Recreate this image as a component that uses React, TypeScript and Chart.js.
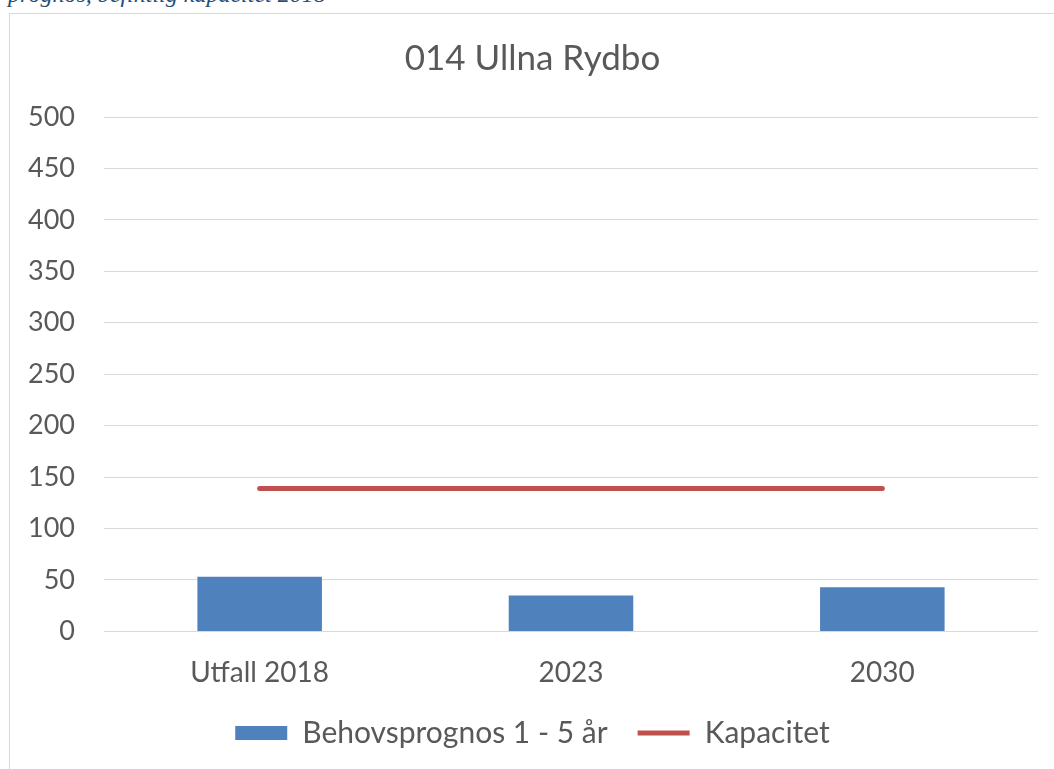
import React, { useEffect, useRef } from "react";
import { Chart, registerables } from "chart.js";

Chart.register(...registerables);

const chartTitle = "014 Ullna Rydbo";
const categories = ["Utfall 2018", "2023", "2030"];
const behovsprognos = [53, 35, 43];
const kapacitet = [139, 139, 139];
const seriesNames = ["Behovsprognos 1 - 5 år", "Kapacitet"];
const yMin = 0;
const yMax = 500;
const yStep = 50;
const captionText = "prognos, befintlig kapacitet 2018";

const TEXT = "#595959";
const FONT = "Lato, 'Noto Sans', sans-serif";

const legendShift = {
  id: "legendShift",
  afterUpdate(chart: any) {
    const l = chart.legend;
    if (l) {
      l.top -= 19;
    }
  },
};

export default function App() {
  const canvasRef = useRef<HTMLCanvasElement | null>(null);

  useEffect(() => {
    if (!canvasRef.current) return;
    const chart = new Chart(canvasRef.current, {
      type: "bar",
      data: {
        labels: categories,
        datasets: [
          {
            type: "bar",
            label: seriesNames[0],
            data: behovsprognos,
            backgroundColor: "#4F81BD",
            borderWidth: 0,
            barPercentage: 0.4,
            categoryPercentage: 1,
            order: 2,
            pointStyle: "rect",
          } as any,
          {
            type: "line",
            label: seriesNames[1],
            data: kapacitet,
            borderColor: "#C0504D",
            backgroundColor: "#C0504D",
            borderWidth: 5,
            borderCapStyle: "round",
            pointRadius: 0,
            pointHoverRadius: 0,
            fill: false,
            order: 1,
            pointStyle: "line",
          } as any,
        ],
      },
      plugins: [legendShift],
      options: {
        animation: false,
        responsive: true,
        maintainAspectRatio: false,
        layout: { padding: { top: 16, left: 17, right: 26, bottom: 4 } },
        plugins: {
          title: {
            display: true,
            text: chartTitle,
            color: TEXT,
            font: { family: FONT, size: 35, weight: "normal" },
            padding: { top: 8, bottom: 37 },
          },
          legend: {
            position: "bottom",
            maxHeight: 63,
            labels: {
              color: TEXT,
              font: { family: FONT, size: 30 },
              usePointStyle: true,
              pointStyleWidth: 52,
              boxHeight: 14,
              padding: 30,
              sort: (a: any, b: any) => a.datasetIndex - b.datasetIndex,
            },
          },
          tooltip: { enabled: false },
        },
        scales: {
          x: {
            grid: { display: false },
            border: { display: false },
            ticks: {
              color: TEXT,
              font: { family: FONT, size: 28 },
              padding: 17,
            },
          },
          y: {
            min: yMin,
            max: yMax,
            grid: { color: "#D9D9D9", lineWidth: 1, drawTicks: false },
            border: { display: false },
            afterFit: (scale: any) => {
              scale.width = 77;
            },
            ticks: {
              stepSize: yStep,
              color: TEXT,
              font: { family: FONT, size: 27 },
              padding: 29,
            },
          },
        },
      },
    });
    return () => chart.destroy();
  }, []);

  return (
    <div style={{ position: "fixed", inset: 0, overflow: "hidden", background: "#fff" }}>
      <div
        style={{
          position: "absolute",
          left: 8,
          top: -18,
          fontFamily: "'Liberation Serif', 'DejaVu Serif', serif",
          fontStyle: "italic",
          fontSize: 24,
          color: "#1F4E79",
          whiteSpace: "nowrap",
          lineHeight: "24px",
        }}
      >
        {captionText}
      </div>
      <div
        style={{
          position: "absolute",
          left: 9,
          top: 13,
          width: 1056,
          height: 762,
          border: "1px solid #D9D9D9",
          boxSizing: "border-box",
        }}
      >
        <div style={{ position: "relative", width: "100%", height: "100%" }}>
          <canvas ref={canvasRef} />
        </div>
      </div>
    </div>
  );
}
